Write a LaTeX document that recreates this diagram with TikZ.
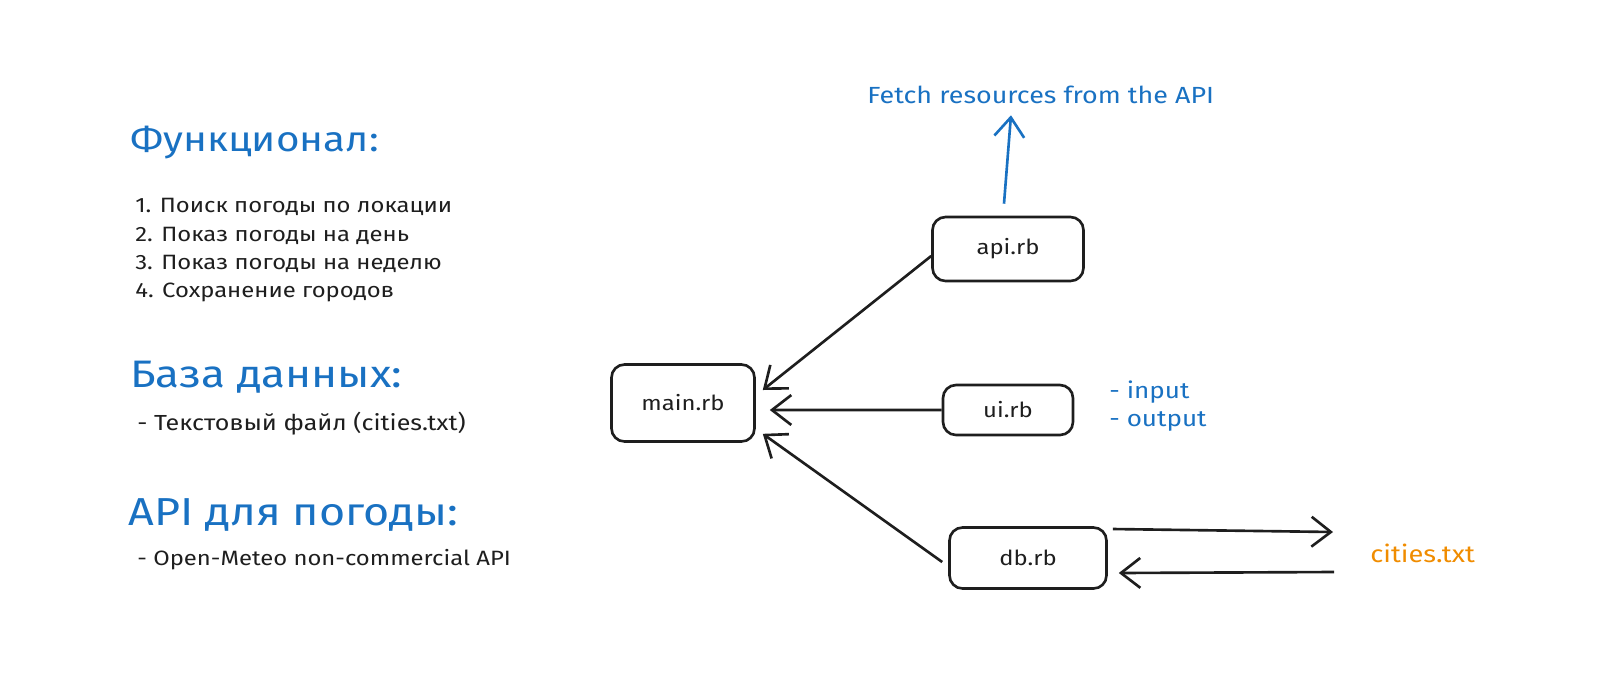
\documentclass[tikz,border=0pt]{standalone}
\usepackage{fontspec}
\setmainfont{Fira Sans}[FakeStretch=1.15]
\usetikzlibrary{arrows.meta}
\definecolor{inkblue}{HTML}{1971C2}
\definecolor{inkorange}{HTML}{F08C00}
\definecolor{ink}{HTML}{1E1E1E}
\begin{document}
\begin{tikzpicture}[x=0.02cm,y=-0.02cm,
    box/.style={draw=ink,line width=1.5pt,rounded corners=0.26cm,font=\fontsize{11.8}{14}\selectfont,text=ink},
    title/.style={anchor=west,text=inkblue,font=\fontsize{21}{25}\selectfont},
    item/.style={anchor=west,text=ink,font=\fontsize{11.8}{14}\selectfont},
    link/.style={draw=ink,line width=1.5pt,-{Straight Barb[length=11pt,width=17pt,line width=1.5pt]}},
    every node/.style={inner sep=0pt}]
    \useasboundingbox (0,0) rectangle (1600,681);
    % left column
    \node[title,font=\fontsize{20}{24}\selectfont] (T1) at (130,143) {Функционал:};
    \node[item] (L1) at (135,207) {1. Поиск погоды по локации};
    \node[item] (L2) at (135,236) {2. Показ погоды на день};
    \node[item] (L3) at (135,264) {3. Показ погоды на неделю};
    \node[item] (L4) at (135,292) {4. Сохранение городов};
    \node[title,font=\fontsize{21.8}{25}\selectfont] (T2) at (130,377) {База данных:};
    \node[item,font=\fontsize{12.4}{14}\selectfont] (D1) at (137,424) {- Текстовый файл (cities.txt)};
    \node[title,font=\fontsize{22.2}{26}\selectfont] (T3) at (128,515) {API для погоды:};
    \node[item] (A1) at (137,560) {- Open-Meteo non-commercial API};
    % modules
    \node[box,minimum width=2.86cm,minimum height=1.54cm] (main) at (683,403) {main.rb};
    \node[box,minimum width=3.02cm,minimum height=1.28cm] (api) at (1008,249) {api.rb};
    \node[box,minimum width=2.6cm,minimum height=1.0cm] (ui) at (1008,410) {ui.rb};
    \node[box,minimum width=3.14cm,minimum height=1.22cm] (db) at (1028,558) {db.rb};
    \node[anchor=west,text=inkblue,font=\fontsize{13.3}{16}\selectfont] (fetch) at (867,95) {Fetch resources from the API};
    \node[anchor=west,align=left,text=inkblue,font=\fontsize{12.9}{16}\selectfont] (io) at (1109,406) {- input\\- output};
    \node[anchor=west,text=inkorange,font=\fontsize{13.5}{16}\selectfont] (cities) at (1370,553) {cities.txt};
    % arrows
    \draw[link,draw=inkblue] ([xshift=-0.08cm,yshift=0.24cm]api.north) -- ([xshift=2.88cm,yshift=-0.22cm]fetch.south west);
    \draw[link] ([yshift=-0.14cm]api.west) -- ([xshift=0.14cm,yshift=0.26cm]main.east);
    \draw[link] (ui.west) -- ([xshift=0.28cm,yshift=-0.14cm]main.east);
    \draw[link] ([xshift=-0.12cm,yshift=-0.08cm]db.west) -- ([xshift=0.14cm,yshift=0.18cm]main.south east);
    \draw[link] ([xshift=0.1cm,yshift=0.58cm]db.east) -- ([xshift=-0.74cm,yshift=0.42cm]cities.west);
    \draw[link] ([xshift=-0.72cm,yshift=-0.38cm]cities.west) -- ([xshift=0.22cm,yshift=-0.3cm]db.east);
\end{tikzpicture}
\end{document}
